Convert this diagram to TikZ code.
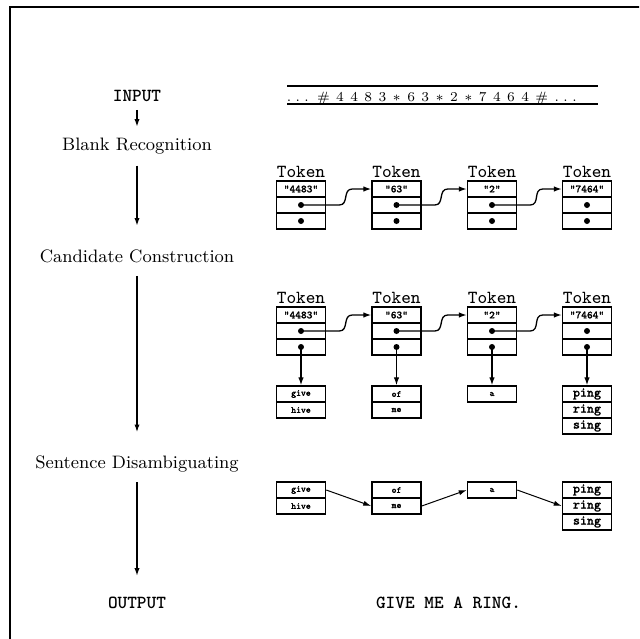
\documentclass[tikz,border=0pt]{standalone}
\usepackage{fontspec}
\usetikzlibrary{arrows.meta}
% heavier typewriter face for the small record fields
\newfontfamily\fieldtt[FakeBold=1.6]{Latin Modern Mono}
\newcommand{\tapedots}{.\kern2.2pt.\kern2.2pt.}
\begin{document}
\begin{tikzpicture}[x=0.5pt,y=-0.5pt,
  stage/.style={font=\fontsize{9}{11}\selectfont, inner sep=0pt, anchor=base},
  io/.style={font=\ttfamily\bfseries\fontsize{9.2}{11}\selectfont, inner sep=0pt, anchor=base},
  toklabel/.style={font=\ttfamily\fontsize{9.2}{11}\selectfont, inner sep=0pt},
  cell/.style={draw, line width=0.75pt, minimum width=24.5pt, minimum height=8pt,
    inner sep=0pt, font=\fieldtt\fontsize{5.4}{6}\selectfont},
  word/.style={cell, font=\fieldtt\fontsize{4.6}{5}\selectfont},
  bigword/.style={cell, font=\fieldtt\fontsize{6.6}{7}\selectfont},
  flow/.style={line width=1pt, -{Latex[length=4pt,width=2.6pt]}},
  link/.style={line width=0.65pt, -{Latex[length=4pt,width=2.8pt]}},
  match/.style={line width=0.5pt, -{Latex[length=4pt,width=2.6pt]}},
]
\useasboundingbox (0,0) rectangle (639,639);

% outer frame (runs off the page to the right and bottom)
\begin{scope}
  \clip (0,0) rectangle (639,639);
  \draw[line width=1pt] (9.5,700) -- (9.5,6.5) -- (700,6.5);
\end{scope}

% processing stages
\node[io]    (input)  at (137,101.7) {INPUT};
\node[stage] (blank)  at (137,150)   {Blank Recognition};
\node[stage] (cand)   at (137,262)   {Candidate Construction};
\node[stage] (sent)   at (137,468)   {Sentence Disambiguating};
\node[io]    (output) at (137,608)   {OUTPUT};

\draw[flow, shorten <=3.8pt, shorten >=5pt]   (input.south) -- (blank.north);
\draw[flow, shorten <=5.7pt, shorten >=11.4pt] (blank.south) -- (cand.north);
\draw[flow, shorten <=6.5pt, shorten >=11.2pt] (cand.south)  -- (sent.north);
\draw[flow, shorten <=5.1pt, shorten >=10pt]   (sent.south)  -- (output.north);

% input tape
\draw[line width=1pt] (287,85.5) -- (598,85.5);
\draw[line width=1pt] (287,104.3) -- (598,104.3);
\node[inner sep=0pt, anchor=base west, font=\fontsize{6.8}{8}\selectfont]
  (tape) at (286.5,101.5)
  {\spaceskip=3.2pt \tapedots{} \# 4 4 8 3 $\ast$ 6 3 $\ast$ 2 $\ast$ 7 4 6 4 \# \tapedots};

% output sentence
\node[io] (result) at (448.5,608) {GIVE ME A RING.};

% ---- token list after blank recognition ----
\foreach \i/\x/\s in {1/301/"4483", 2/396.5/"63", 3/492/"2", 4/587/"7464"} {
  \node[toklabel] (l\i) at (\x,172) {Token};
  \node[cell] (t\i a) at (\x,189) {\s};
  \node[cell] (t\i b) at (\x,205) {};
  \node[cell] (t\i c) at (\x,221) {};
  \fill (t\i b.center) circle (1.5pt);
  \fill (t\i c.center) circle (1.5pt);
}
\foreach \i/\j in {1/2, 2/3, 3/4} {
  \draw[link] (t\i b.center) -- ([xshift=6.5pt]t\i b.east)
    .. controls +(10,0) and +(-10,0) .. ([xshift=-9.5pt]t\j a.west) -- (t\j a.west);
}

% ---- token list with candidate words ----
\foreach \i/\x/\s in {1/301/"4483", 2/396.5/"63", 3/492/"2", 4/587/"7464"} {
  \node[toklabel] (m\i) at (\x,298) {Token};
  \node[cell] (u\i a) at (\x,315) {\s};
  \node[cell] (u\i b) at (\x,331) {};
  \node[cell] (u\i c) at (\x,347) {};
  \fill (u\i b.center) circle (1.5pt);
  \fill (u\i c.center) circle (1.5pt);
}
\foreach \i/\j in {1/2, 2/3, 3/4} {
  \draw[link] (u\i b.center) -- ([xshift=6.5pt]u\i b.east)
    .. controls +(10,0) and +(-10,0) .. ([xshift=-9.5pt]u\j a.west) -- (u\j a.west);
}

\node[word] (c1a) at (301,394) {give};
\node[word] (c1b) at (301,410) {hive};
\node[word] (c2a) at (396.5,394) {of};
\node[word] (c2b) at (396.5,410) {me};
\node[word] (c3a) at (492,394) {a};
\node[bigword] (c4a) at (587,394) {ping};
\node[bigword] (c4b) at (587,410) {ring};
\node[bigword] (c4c) at (587,426) {sing};

\foreach \i in {1,2,3,4} {
  \draw[link] (u\i c.center) -- (c\i a.north);
}

% ---- disambiguated sentence ----
\node[word] (d1a) at (301,490) {give};
\node[word] (d1b) at (301,506) {hive};
\node[word] (d2a) at (396.5,490) {of};
\node[word] (d2b) at (396.5,506) {me};
\node[word] (d3a) at (492,490) {a};
\node[bigword] (d4a) at (587,490) {ping};
\node[bigword] (d4b) at (587,506) {ring};
\node[bigword] (d4c) at (587,522) {sing};

\draw[match] (d1a.east) -- (d2b.west);
\draw[match] (d2b.east) -- (d3a.west);
\draw[match] (d3a.east) -- (d4b.west);

\end{tikzpicture}
\end{document}
